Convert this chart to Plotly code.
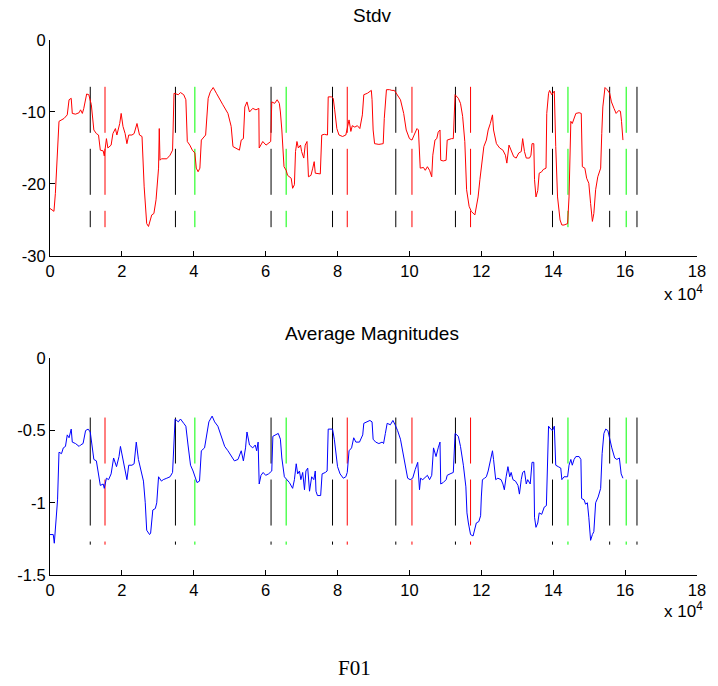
import plotly.graph_objects as go

# ---------------- data (x in units of 1e4 samples) ----------------
stdv_x = [0.00,0.11,0.15,0.21,0.25,0.39,0.48,0.53,0.59,0.62,0.71,0.81,0.85,0.90,0.94,1.02,1.08,1.15,1.22,1.29,1.35,1.40,1.48,1.51,1.57,1.61,1.70,1.75,1.82,1.86,1.94,1.98,2.03,2.09,2.14,2.19,2.28,2.34,2.42,2.49,2.56,2.62,2.69,2.74,2.83,2.89,2.95,3.02,3.04,3.06,3.10,3.25,3.34,3.41,3.45,3.57,3.63,3.72,3.78,3.82,3.89,3.96,4.03,4.07,4.12,4.17,4.21,4.33,4.40,4.46,4.54,4.63,4.72,4.81,4.95,5.04,5.09,5.18,5.27,5.32,5.38,5.42,5.48,5.55,5.64,5.73,5.81,5.82,5.92,6.01,6.14,6.17,6.25,6.32,6.38,6.41,6.45,6.51,6.57,6.61,6.71,6.75,6.80,6.83,6.87,6.91,6.97,7.00,7.06,7.10,7.15,7.19,7.26,7.31,7.35,7.38,7.44,7.52,7.56,7.63,7.72,7.74,7.83,7.88,7.92,7.98,8.04,8.14,8.23,8.27,8.32,8.37,8.41,8.48,8.55,8.62,8.69,8.73,8.83,8.94,8.96,8.99,9.03,9.15,9.27,9.30,9.36,9.45,9.51,9.58,9.63,9.75,9.84,9.91,10.00,10.07,10.13,10.21,10.25,10.30,10.39,10.44,10.50,10.56,10.62,10.65,10.71,10.76,10.80,10.85,10.87,10.94,11.02,11.05,11.17,11.22,11.27,11.36,11.42,11.48,11.54,11.59,11.66,11.72,11.82,11.86,11.91,11.96,12.00,12.07,12.14,12.19,12.25,12.31,12.34,12.42,12.51,12.60,12.67,12.71,12.77,12.83,12.90,12.97,13.04,13.11,13.15,13.20,13.25,13.34,13.38,13.41,13.46,13.48,13.52,13.57,13.61,13.68,13.72,13.80,13.82,13.87,13.90,13.96,14.03,14.07,14.12,14.19,14.24,14.30,14.40,14.44,14.49,14.53,14.58,14.63,14.72,14.78,14.81,14.88,14.93,14.99,15.04,15.09,15.13,15.18,15.24,15.32,15.35,15.38,15.44,15.50,15.57,15.62,15.69,15.75,15.82,15.87,15.90,15.94]
stdv_y = [-23.4,-23.8,-21.3,-16.0,-11.3,-10.9,-10.4,-8.3,-8.1,-10.2,-10.3,-10.1,-9.7,-10.2,-9.5,-7.5,-7.6,-9.0,-12.5,-13.0,-13.2,-15.3,-15.4,-16.1,-13.7,-15.0,-14.6,-13.0,-12.3,-13.2,-11.6,-10.2,-12.0,-13.0,-14.4,-13.2,-13.2,-13.0,-11.6,-13.2,-13.4,-20.4,-25.5,-25.9,-24.3,-24.1,-22.2,-17.8,-12.3,-16.7,-16.5,-16.5,-16.0,-15.3,-7.4,-7.6,-7.3,-7.6,-8.3,-14.1,-14.6,-15.3,-15.7,-17.8,-18.3,-17.8,-13.9,-13.2,-8.1,-7.2,-6.6,-7.4,-8.3,-9.0,-10.2,-12.0,-14.8,-15.0,-15.3,-13.9,-13.7,-9.3,-8.6,-10.0,-9.5,-9.7,-9.5,-15.0,-14.1,-14.6,-14.1,-8.6,-8.8,-8.3,-8.8,-10.0,-12.5,-17.6,-18.1,-18.8,-19.2,-20.6,-20.1,-15.5,-14.1,-15.0,-14.6,-15.5,-16.4,-14.6,-14.1,-19.0,-18.8,-17.8,-16.9,-18.5,-18.5,-18.6,-13.2,-13.1,-13.2,-7.9,-7.9,-8.1,-9.7,-12.3,-13.2,-13.4,-13.2,-12.0,-11.1,-12.7,-11.9,-12.1,-11.9,-12.3,-10.4,-7.6,-7.4,-7.0,-8.3,-12.5,-14.4,-14.5,-14.4,-10.9,-6.9,-6.9,-7.0,-7.0,-7.4,-8.3,-10.2,-12.5,-13.7,-13.9,-13.2,-12.3,-12.5,-17.8,-17.7,-18.1,-17.6,-18.1,-19.0,-16.0,-13.9,-13.7,-12.8,-12.5,-16.7,-16.8,-16.7,-13.9,-13.7,-13.7,-7.6,-8.1,-8.8,-10.6,-14.1,-20.8,-23.1,-23.8,-24.3,-23.4,-21.8,-19.4,-17.6,-14.8,-13.9,-12.5,-11.6,-10.4,-12.5,-14.4,-15.0,-15.3,-16.0,-17.1,-14.6,-15.3,-16.2,-16.4,-15.7,-15.5,-13.7,-15.5,-16.4,-16.4,-16.0,-14.4,-14.4,-19.4,-21.8,-20.9,-18.5,-18.3,-18.0,-17.8,-10.2,-7.4,-7.0,-7.6,-7.1,-14.8,-21.8,-25.0,-25.7,-25.7,-25.5,-21.8,-11.3,-11.6,-11.0,-10.2,-10.1,-10.2,-17.6,-17.8,-19.2,-19.9,-22.7,-25.2,-24.1,-20.8,-19.0,-17.8,-13.0,-9.3,-6.6,-6.9,-7.4,-8.6,-9.5,-10.2,-9.8,-9.9,-11.3,-13.9]

mag_x = [0.00,0.09,0.12,0.16,0.21,0.25,0.32,0.37,0.43,0.48,0.53,0.59,0.62,0.71,0.76,0.81,0.85,0.92,0.99,1.06,1.12,1.15,1.22,1.29,1.36,1.40,1.48,1.51,1.57,1.63,1.70,1.77,1.85,1.92,1.96,2.03,2.09,2.14,2.19,2.28,2.34,2.40,2.46,2.56,2.60,2.65,2.69,2.77,2.80,2.86,2.93,2.97,3.02,3.10,3.15,3.25,3.34,3.41,3.48,3.57,3.63,3.72,3.78,3.84,3.91,3.98,4.05,4.09,4.16,4.21,4.30,4.36,4.42,4.51,4.58,4.67,4.77,4.86,4.95,5.04,5.13,5.23,5.32,5.38,5.44,5.48,5.55,5.64,5.71,5.75,5.79,5.82,5.87,5.93,6.00,6.08,6.17,6.20,6.29,6.35,6.41,6.45,6.52,6.60,6.66,6.75,6.80,6.85,6.89,6.94,6.98,7.03,7.08,7.12,7.17,7.22,7.28,7.34,7.38,7.40,7.44,7.53,7.57,7.66,7.71,7.74,7.86,7.91,7.96,8.00,8.07,8.16,8.23,8.27,8.32,8.39,8.45,8.51,8.61,8.70,8.73,8.83,8.90,8.96,8.99,9.06,9.15,9.24,9.28,9.33,9.38,9.47,9.54,9.60,9.67,9.75,9.82,9.88,9.95,10.02,10.09,10.16,10.23,10.28,10.31,10.37,10.44,10.50,10.56,10.62,10.67,10.74,10.80,10.85,10.87,10.94,11.02,11.05,11.13,11.22,11.27,11.36,11.42,11.50,11.57,11.60,11.64,11.70,11.77,11.83,11.86,11.93,11.98,12.00,12.03,12.09,12.14,12.19,12.25,12.31,12.34,12.40,12.46,12.55,12.60,12.64,12.69,12.74,12.79,12.83,12.88,12.95,13.02,13.06,13.11,13.15,13.20,13.25,13.29,13.36,13.41,13.46,13.48,13.52,13.57,13.61,13.68,13.75,13.81,13.85,13.87,13.93,13.98,14.03,14.07,14.14,14.21,14.24,14.30,14.40,14.44,14.49,14.53,14.58,14.63,14.72,14.77,14.79,14.86,14.90,14.95,14.99,15.04,15.09,15.13,15.18,15.25,15.32,15.36,15.41,15.46,15.52,15.58,15.63,15.71,15.77,15.84,15.87,15.89,15.94]
mag_y = [-1.22,-1.22,-1.28,-1.12,-0.98,-0.65,-0.66,-0.62,-0.61,-0.53,-0.55,-0.49,-0.58,-0.59,-0.60,-0.61,-0.60,-0.59,-0.50,-0.49,-0.51,-0.58,-0.70,-0.71,-0.81,-0.88,-0.87,-0.90,-0.83,-0.84,-0.80,-0.69,-0.75,-0.68,-0.61,-0.70,-0.76,-0.84,-0.74,-0.74,-0.73,-0.58,-0.70,-0.81,-0.85,-1.00,-1.19,-1.22,-1.21,-1.05,-1.04,-1.00,-0.82,-0.85,-0.84,-0.83,-0.82,-0.79,-0.42,-0.44,-0.42,-0.45,-0.47,-0.60,-0.74,-0.78,-0.83,-0.86,-0.85,-0.64,-0.62,-0.52,-0.44,-0.40,-0.44,-0.47,-0.55,-0.61,-0.64,-0.68,-0.71,-0.70,-0.64,-0.71,-0.62,-0.51,-0.60,-0.62,-0.60,-0.64,-0.58,-0.87,-0.81,-0.79,-0.81,-0.80,-0.78,-0.54,-0.53,-0.52,-0.56,-0.69,-0.82,-0.84,-0.86,-0.90,-0.84,-0.73,-0.80,-0.78,-0.84,-0.79,-0.91,-0.78,-0.76,-0.92,-0.82,-0.84,-0.78,-0.92,-0.95,-0.95,-0.80,-0.79,-0.78,-0.49,-0.49,-0.56,-0.68,-0.75,-0.80,-0.83,-0.82,-0.79,-0.64,-0.62,-0.55,-0.58,-0.58,-0.53,-0.45,-0.44,-0.43,-0.44,-0.56,-0.58,-0.59,-0.58,-0.59,-0.52,-0.45,-0.46,-0.43,-0.46,-0.50,-0.56,-0.66,-0.73,-0.83,-0.84,-0.83,-0.77,-0.72,-0.91,-0.83,-0.84,-0.82,-0.81,-0.84,-0.81,-0.62,-0.68,-0.62,-0.58,-0.87,-0.86,-0.84,-0.81,-0.80,-0.79,-0.52,-0.54,-0.61,-0.74,-0.89,-1.07,-1.14,-1.22,-1.23,-1.16,-1.14,-1.13,-1.09,-0.96,-0.84,-0.83,-0.82,-0.78,-0.70,-0.64,-0.70,-0.84,-0.83,-0.84,-0.87,-0.91,-0.82,-0.75,-0.82,-0.79,-0.84,-0.85,-0.88,-0.94,-0.84,-0.79,-0.78,-0.87,-0.84,-0.87,-0.72,-0.72,-1.10,-1.17,-1.14,-1.07,-1.08,-1.03,-1.02,-0.64,-0.47,-0.49,-0.50,-0.47,-0.74,-0.75,-0.76,-0.84,-0.82,-0.82,-0.74,-0.70,-0.74,-0.70,-0.68,-0.68,-0.70,-0.97,-0.98,-1.01,-1.00,-1.10,-1.26,-1.22,-1.20,-1.00,-0.96,-0.90,-0.66,-0.52,-0.49,-0.50,-0.57,-0.62,-0.69,-0.70,-0.69,-0.76,-0.80,-0.83]

# event markers (x in 1e4 samples) and their colours
marker_x = [1.12, 1.53, 3.49, 4.03, 6.15, 6.57, 7.86, 8.27, 9.62, 10.07, 11.28, 11.70, 13.98, 14.41, 15.57, 16.03, 16.33]
marker_c = ["k", "r", "k", "g", "k", "g", "k", "r", "k", "r", "k", "r", "k", "g", "k", "g", "k"]
stdv_marker_span = [-6.5, -26.0]
mag_marker_span = [-0.41, -1.29]

x_ticks = [0, 2, 4, 6, 8, 10, 12, 14, 16, 18]
stdv_ticks = [-30, -20, -10, 0]
stdv_ticktext = ["-30", "-20", "-10", "0"]
mag_ticks = [-1.5, -1.0, -0.5, 0]
mag_ticktext = ["-1.5", "-1", "-0.5", "0"]

# ---------------- figure ----------------
COLORS = {"k": "#000000", "r": "#ff0000", "g": "#00ff00"}
FONT = "Liberation Sans, Arial, sans-serif"
TICKSIZE = 16.5

fig = go.Figure()

def add_markers(span, xa, ya):
    for mx, mc in zip(marker_x, marker_c):
        fig.add_trace(go.Scatter(
            x=[mx, mx], y=span, mode="lines", xaxis=xa, yaxis=ya,
            line=dict(color=COLORS[mc], width=1, dash="46px,16px"),
            showlegend=False, hoverinfo="skip"))

add_markers(stdv_marker_span, "x", "y")
fig.add_trace(go.Scatter(x=stdv_x, y=stdv_y, mode="lines", xaxis="x", yaxis="y",
                         line=dict(color="#ff0000", width=1), showlegend=False))
add_markers(mag_marker_span, "x2", "y2")
fig.add_trace(go.Scatter(x=mag_x, y=mag_y, mode="lines", xaxis="x2", yaxis="y2",
                         line=dict(color="#0000ff", width=1), showlegend=False))

xcommon = dict(range=[0, 18], tickvals=x_ticks, ticktext=[str(v) for v in x_ticks],
               ticks="inside", ticklen=5, tickcolor="black", showline=True,
               linecolor="black", linewidth=1, showgrid=False, zeroline=False,
               mirror=False, ticklabelstandoff=0,
               tickfont=dict(family=FONT, size=TICKSIZE, color="black"))
ycommon = dict(ticks="inside", ticklen=5, tickcolor="black", showline=True,
               linecolor="black", linewidth=1, showgrid=False, zeroline=False,
               mirror=False, ticklabelstandoff=0,
               tickfont=dict(family=FONT, size=TICKSIZE, color="black"))

fig.update_layout(
    width=718, height=686,
    margin=dict(l=50, r=16, t=40, b=111),
    paper_bgcolor="white", plot_bgcolor="white",
    xaxis=dict(domain=[0, 1], anchor="y", **xcommon),
    yaxis=dict(domain=[0.5963, 1], anchor="x", range=[-30, 0],
               tickvals=stdv_ticks, ticktext=stdv_ticktext, **ycommon),
    xaxis2=dict(domain=[0, 1], anchor="y2", **xcommon),
    yaxis2=dict(domain=[0, 0.405], anchor="x2", range=[-1.5, 0],
                tickvals=mag_ticks, ticktext=mag_ticktext, **ycommon),
    annotations=[
        dict(text="Stdv", xref="paper", yref="paper", x=0.498, y=1.045,
             yanchor="middle", showarrow=False,
             font=dict(family=FONT, size=19, color="black")),
        dict(text="Average Magnitudes", xref="paper", yref="paper", x=0.498, y=0.452,
             yanchor="middle", showarrow=False,
             font=dict(family=FONT, size=19, color="black")),
        dict(text="x 10<sup>4</sup>", xref="paper", yref="paper", x=1.012, y=0.528,
             xanchor="right", yanchor="middle", showarrow=False,
             font=dict(family=FONT, size=17, color="black")),
        dict(text="x 10<sup>4</sup>", xref="paper", yref="paper", x=1.012, y=-0.066,
             xanchor="right", yanchor="middle", showarrow=False,
             font=dict(family=FONT, size=17, color="black")),
        dict(text="F01", xref="paper", yref="paper", x=0.471, y=-0.174,
             yanchor="middle", showarrow=False,
             font=dict(family="Liberation Serif, Times New Roman, serif", size=21, color="black")),
    ],
)

fig.write_html("out.html")
